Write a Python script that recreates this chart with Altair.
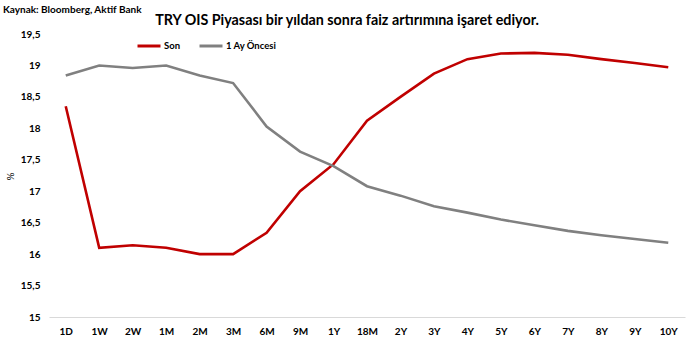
import altair as alt
import pandas as pd

tenors = ["1D", "1W", "2W", "1M", "2M", "3M", "6M", "9M", "1Y", "18M",
          "2Y", "3Y", "4Y", "5Y", "6Y", "7Y", "8Y", "9Y", "10Y"]
son = [18.35, 16.10, 16.14, 16.10, 16.00, 16.00, 16.34, 17.00, 17.43, 18.12,
       18.50, 18.87, 19.10, 19.19, 19.20, 19.17, 19.10, 19.04, 18.97]
bir_ay_oncesi = [18.84, 19.00, 18.96, 19.00, 18.84, 18.72, 18.03, 17.63, 17.40, 17.08,
                 16.93, 16.76, 16.66, 16.55, 16.46, 16.37, 16.30, 16.24, 16.18]
series_names = ["Son", "1 Ay Öncesi"]
series_colors = ["#c00000", "#808080"]
y_ticks = [15, 15.5, 16, 16.5, 17, 17.5, 18, 18.5, 19, 19.5]

title_text = "TRY OIS Piyasası bir yıldan sonra faiz artırımına işaret ediyor."
source_text = "Kaynak: Bloomberg, Aktif Bank"

rows = []
for i, t in enumerate(tenors):
    rows.append({"vade": t, "seri": series_names[0], "deger": son[i], "o": i})
    rows.append({"vade": t, "seri": series_names[1], "deger": bir_ay_oncesi[i], "o": i})
df = pd.DataFrame(rows)

FONT = "Lato"

lines = alt.Chart(df).mark_line(strokeWidth=2.6).encode(
    x=alt.X("vade:N", sort=tenors,
            scale=alt.Scale(type="point", padding=0.5),
            axis=alt.Axis(title=None, labelAngle=0, ticks=False, domainColor="#d9d9d9",
                          domainWidth=1, labelFont=FONT, labelFontSize=10,
                          labelFontWeight="bold", labelColor="#000000", labelPadding=9)),
    y=alt.Y("deger:Q",
            scale=alt.Scale(domain=[15, 19.5], nice=False, zero=False),
            axis=alt.Axis(title="%", values=y_ticks, grid=False, domain=False, ticks=False,
                          labelExpr="replace(format(datum.value, '~g'), '.', ',')",
                          labelFont=FONT, labelFontSize=10, labelFontWeight="bold",
                          labelColor="#000000", labelPadding=9,
                          titleFont=FONT, titleFontSize=10, titleFontWeight="normal",
                          titleColor="#000000", titleX=-39, titleY=142,
                          titleAlign="center", titleBaseline="middle")),
    color=alt.Color("seri:N",
                    scale=alt.Scale(domain=series_names, range=series_colors),
                    legend=alt.Legend(orient="none", legendX=87, legendY=-1,
                                      direction="horizontal", title=None,
                                      symbolType="stroke", symbolSize=529,
                                      symbolStrokeWidth=3, labelFont=FONT,
                                      labelFontSize=9.5, labelFontWeight="bold",
                                      labelColor="#000000", columnPadding=12,
                                      labelOffset=2)),
    order="o:Q",
)

source = alt.Chart(pd.DataFrame({"t": [source_text]})).mark_text(
    align="left", baseline="alphabetic", font=FONT, fontSize=10,
    fontWeight="bold", color="#000000"
).encode(x=alt.value(-46), y=alt.value(-21), text="t:N")

title = alt.Chart(pd.DataFrame({"t": [title_text]})).mark_text(
    align="center", baseline="alphabetic", font=FONT, fontSize=14.3,
    fontWeight="bold", color="#000000"
).encode(x=alt.value(298), y=alt.value(-9), text="t:N")

chart = alt.layer(lines, source, title).properties(
    width=636, height=283,
    autosize=alt.AutoSizeParams(type="none"),
    padding={"left": 49, "top": 34, "right": 11, "bottom": 39},
    background="#ffffff",
).configure_view(stroke=None)

chart.save("out.html", embed_options={"renderer": "svg", "actions": False})
